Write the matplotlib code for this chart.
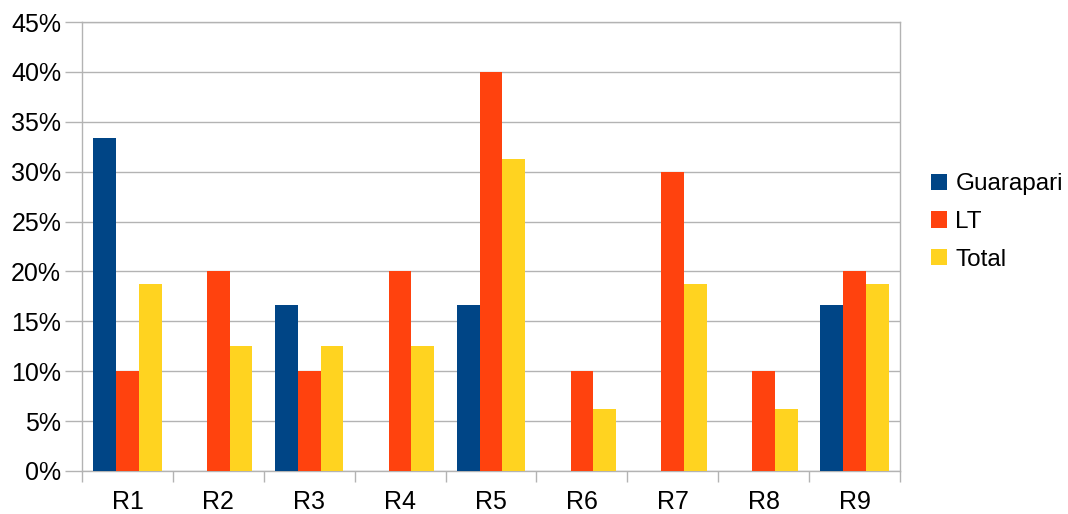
import numpy as np
import matplotlib.pyplot as plt
from matplotlib.ticker import PercentFormatter

plt.rcParams['font.family'] = ['Liberation Sans', 'DejaVu Sans']

categories = ['R1', 'R2', 'R3', 'R4', 'R5', 'R6', 'R7', 'R8', 'R9']
guarapari = [33.33, 0, 16.67, 0, 16.67, 0, 0, 0, 16.67]
lt = [10, 20, 10, 20, 40, 10, 30, 10, 20]
total = [18.75, 12.5, 12.5, 12.5, 31.25, 6.25, 18.75, 6.25, 18.75]

series = [('Guarapari', guarapari, '#004586'),
          ('LT', lt, '#ff420e'),
          ('Total', total, '#ffd320')]

fig = plt.figure(figsize=(10.68, 5.14), dpi=100)
ax = fig.add_axes([82 / 1068, 1 - 471 / 514, (900 - 82) / 1068, (471 - 22) / 514])

x = np.arange(len(categories))
w = 0.25
for i, (name, vals, col) in enumerate(series):
    ax.bar(x + (i - 1) * w, vals, w, color=col, label=name, zorder=3)

ax.set_xlim(-0.5, len(categories) - 0.5)
ax.set_ylim(0, 45)
ax.set_yticks(np.arange(0, 46, 5))
ax.yaxis.set_major_formatter(PercentFormatter(decimals=0))
ax.set_xticks(x)
ax.set_xticklabels(categories)
ax.set_xticks(np.arange(-0.5, len(categories), 1), minor=True)
ax.tick_params(axis='x', which='major', length=0, pad=14, labelsize=18)
ax.tick_params(axis='x', which='minor', length=8, color='#b3b3b3', width=1)
ax.tick_params(axis='y', length=12, color='#b3b3b3', width=1, pad=3, labelsize=18)
ax.grid(axis='y', color='#b3b3b3', linewidth=1, zorder=0)
for s in ax.spines.values():
    s.set_color('#b3b3b3')
    s.set_linewidth(1)

fig.legend(loc='center left', bbox_to_anchor=(931 / 1068, 1 - 222 / 514),
           frameon=False, fontsize=17.5, handlelength=0.65, handleheight=0.65,
           handletextpad=0.35, labelspacing=0.65, borderaxespad=0, borderpad=0)

fig.savefig('out.png', dpi=100)
